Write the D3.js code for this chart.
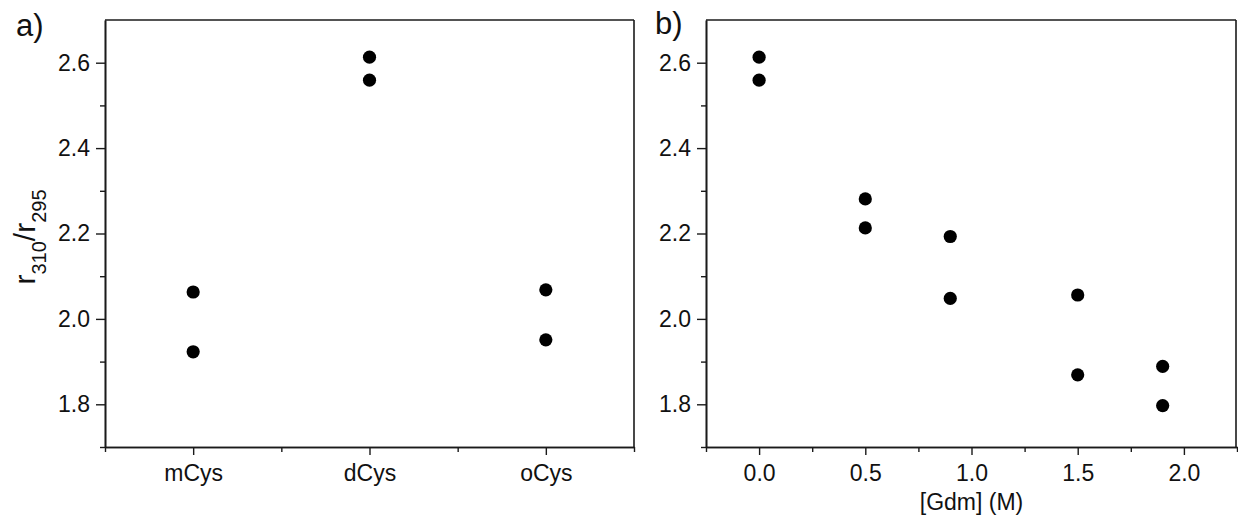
<!DOCTYPE html>
<html>
<head>
<meta charset="utf-8">
<script src="https://cdn.jsdelivr.net/npm/d3@7"></script>
<style>
  body { margin: 0; background: #fff; }
  svg { display: block; font-family: Arial, "Liberation Sans", sans-serif; }
</style>
</head>
<body>
<svg id="chart" width="1238" height="518"></svg>
<script>
// panel a: cysteine forms
var categories = ["mCys", "dCys", "oCys"];
var cysRun1 = [2.063, 2.613, 2.068];
var cysRun2 = [1.923, 2.559, 1.951];

// panel b: guanidinium concentration (M)
var gdm = [0.0, 0.5, 0.9, 1.5, 1.9];
var gdmRun1 = [2.613, 2.281, 2.193, 2.056, 1.889];
var gdmRun2 = [2.559, 2.213, 2.048, 1.869, 1.797];

var yTicks = [1.8, 2.0, 2.2, 2.4, 2.6];
var yMinor = [1.7, 1.9, 2.1, 2.3, 2.5];
var gdmTicks = [0.0, 0.5, 1.0, 1.5, 2.0];
var gdmMinor = [-0.25, 0.25, 0.75, 1.25, 1.75, 2.25];

var svg = d3.select("#chart");
var plotTop = 20, plotBottom = 447;
var ink = "#1a1a1a";

var y = d3.scaleLinear().domain([1.7, 2.7]).range([plotBottom, plotTop]);

function frame(g, x0, x1) {
  g.append("line").attr("x1", x0).attr("x2", x1).attr("y1", plotTop).attr("y2", plotTop);
  g.append("line").attr("x1", x1).attr("x2", x1).attr("y1", plotTop).attr("y2", plotBottom);
  g.selectAll("line").attr("stroke", ink).attr("stroke-width", 1.6);
}

function styleAxis(g) {
  g.select(".domain").attr("stroke", ink).attr("stroke-width", 1.6);
  g.selectAll(".tick line").attr("stroke", ink).attr("stroke-width", 1.4);
  g.selectAll(".tick text").attr("fill", "#111").style("font-size", "23px")
    .style("font-family", "Arial, 'Liberation Sans', sans-serif");
}

function yAxes(x0) {
  var gMin = svg.append("g").attr("transform", "translate(" + x0 + ",0)")
    .call(d3.axisLeft(y).tickValues(yMinor).tickSize(5).tickSizeOuter(0).tickFormat(""));
  styleAxis(gMin);
  var g = svg.append("g").attr("transform", "translate(" + x0 + ",0)")
    .call(d3.axisLeft(y).tickValues(yTicks).tickSize(9).tickSizeOuter(0).tickPadding(6)
      .tickFormat(d3.format(".1f")));
  styleAxis(g);
}

function dots(x, xs, ys) {
  svg.append("g").selectAll("circle")
    .data(xs.map(function(d, i) { return [d, ys[i]]; }))
    .enter().append("circle")
      .attr("cx", function(d) { return x(d[0]); })
      .attr("cy", function(d) { return y(d[1]); })
      .attr("r", 6.6)
      .attr("fill", "#000");
}

// ---- panel a ----
var xa = d3.scaleLinear().domain([0.5, 3.5]).range([105, 634]);
frame(svg.append("g"), 105, 634);
var gaMin = svg.append("g").attr("transform", "translate(0," + plotBottom + ")")
  .call(d3.axisBottom(xa).tickValues([0.5, 1.5, 2.5, 3.5]).tickSize(5).tickSizeOuter(0).tickFormat(""));
styleAxis(gaMin);
var ga = svg.append("g").attr("transform", "translate(0," + plotBottom + ")")
  .call(d3.axisBottom(xa).tickValues([1, 2, 3]).tickSize(8).tickSizeOuter(0).tickPadding(10)
    .tickFormat(function(d) { return categories[d - 1]; }));
styleAxis(ga);
yAxes(105);
dots(xa, [1, 2, 3], cysRun1);
dots(xa, [1, 2, 3], cysRun2);

svg.append("text").attr("x", 16).attr("y", 36)
  .style("font-size", "31px").attr("fill", "#111").text("a)");

var yt = svg.append("text")
  .attr("transform", "translate(35,237) rotate(-90)")
  .attr("text-anchor", "middle")
  .style("font-size", "30px").attr("fill", "#111");
yt.append("tspan").text("r");
yt.append("tspan").attr("baseline-shift", "sub").style("font-size", "20px").text("310");
yt.append("tspan").text("/r");
yt.append("tspan").attr("baseline-shift", "sub").style("font-size", "20px").text("295");

// ---- panel b ----
var xb = d3.scaleLinear().domain([-0.25, 2.25]).range([706, 1237]);
frame(svg.append("g"), 706, 1236);
var gbMin = svg.append("g").attr("transform", "translate(0," + plotBottom + ")")
  .call(d3.axisBottom(xb).tickValues(gdmMinor).tickSize(5).tickSizeOuter(0).tickFormat(""));
styleAxis(gbMin);
var gb = svg.append("g").attr("transform", "translate(0," + plotBottom + ")")
  .call(d3.axisBottom(xb).tickValues(gdmTicks).tickSize(8).tickSizeOuter(0).tickPadding(10)
    .tickFormat(d3.format(".1f")));
styleAxis(gb);
yAxes(706);
dots(xb, gdm, gdmRun1);
dots(xb, gdm, gdmRun2);

svg.append("text").attr("x", 655).attr("y", 34)
  .style("font-size", "31px").attr("fill", "#111").text("b)");

svg.append("text").attr("x", xb(1.0)).attr("y", 510)
  .attr("text-anchor", "middle")
  .style("font-size", "23px").attr("fill", "#111").text("[Gdm] (M)");
</script>
</body>
</html>
